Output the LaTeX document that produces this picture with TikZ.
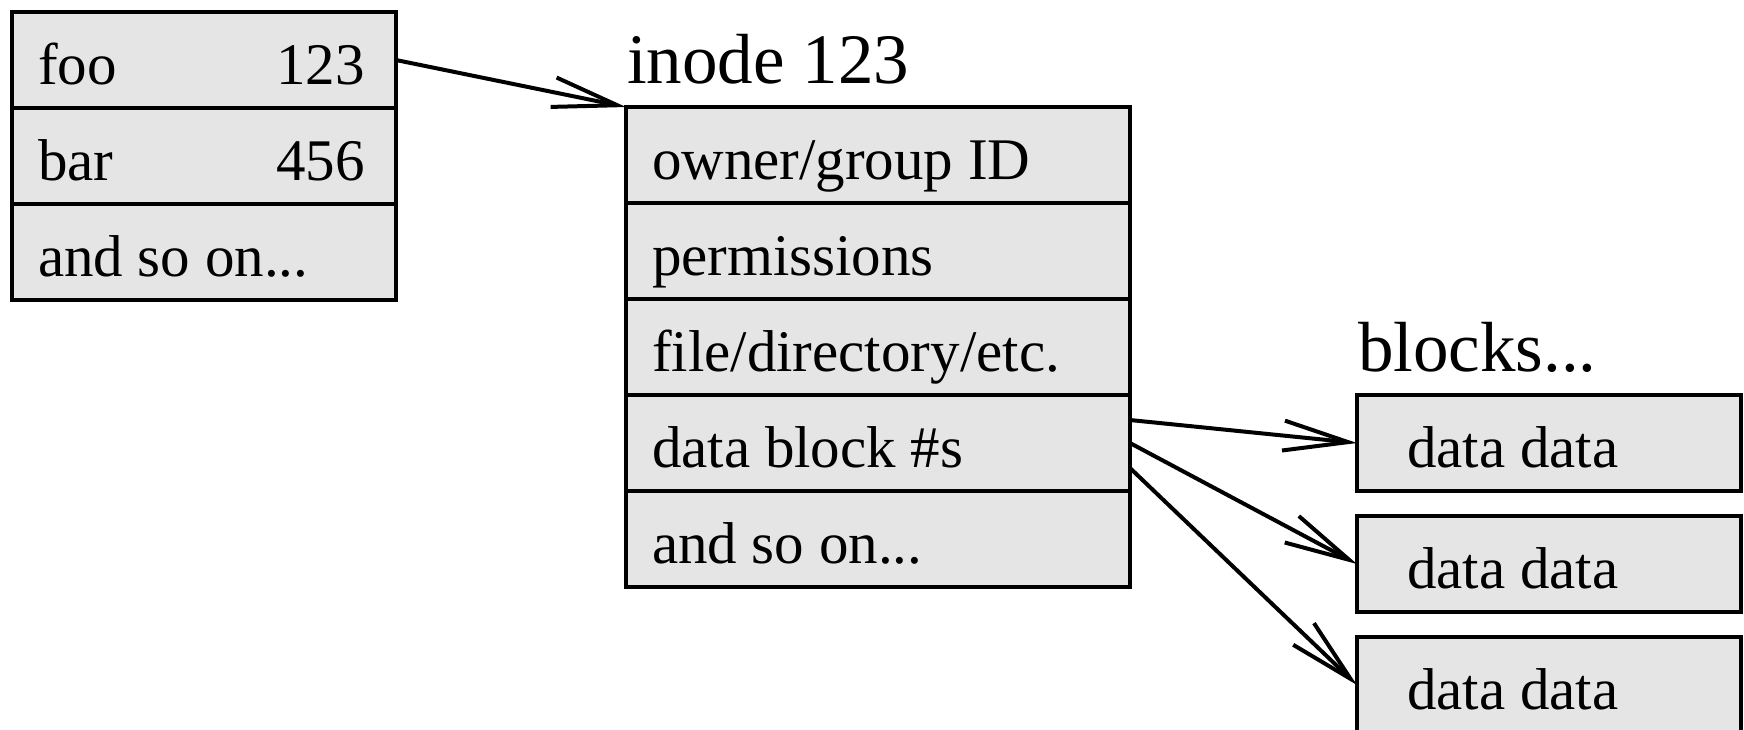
\documentclass[tikz,border=0pt]{standalone}
\usepackage{fontspec}
\setmainfont{Liberation Serif}
\usetikzlibrary{positioning,arrows.meta,calc}

\newcommand{\namenum}[2]{\makebox[65.4pt][s]{#1\hfill #2}}
\newcommand{\dirtxt}[1]{\makebox[66.4pt][l]{#1}}
\newcommand{\inotxt}[1]{\makebox[90.4pt][l]{#1}}
\newcommand{\blktxt}[1]{\makebox[56.8pt][l]{#1}}

\tikzset{
  cell/.style={draw, fill=black!10, line width=0.85pt, outer sep=0pt,
    inner xsep=5.2pt, inner ysep=4.8pt, text height=9.6pt, text depth=0pt,
    font=\fontsize{11.8}{14}\selectfont},
  blkcell/.style={cell, inner xsep=10pt},
  title/.style={inner sep=0pt, anchor=base west, font=\fontsize{14.2}{17}\selectfont},
  ptr/.style={line width=0.8pt, -{Straight Barb[length=13pt,width=6pt]}}
}

\begin{document}
\begin{tikzpicture}
\useasboundingbox (0,0) rectangle (348.8pt,-145.8pt);
%
% directory
\node[cell, anchor=north west] (foo) at (2.4pt,-2.4pt) {\dirtxt{\namenum{foo}{123}}};
\node[cell, below=0pt of foo] (bar) {\dirtxt{\namenum{bar}{456}}};
\node[cell, below=0pt of bar] (dirmore) {\dirtxt{and so on...}};
%
% inode
\node[cell, anchor=north west] (own) at (125.2pt,-21.4pt) {\inotxt{owner/group ID}};
\node[cell, below=0pt of own] (perm) {\inotxt{permissions}};
\node[cell, below=0pt of perm] (ftype) {\inotxt{file/directory/etc.}};
\node[cell, below=0pt of ftype] (dat) {\inotxt{data block \#s}};
\node[cell, below=0pt of dat] (inomore) {\inotxt{and so on...}};
\node[title] (inodelbl) at ($(own.north west)+(0,4.8pt)$) {inode 123};
%
% data blocks
\node[blkcell, anchor=north west] (blk1) at (271.4pt,-79pt) {\blktxt{data data}};
\node[blkcell, below=5pt of blk1] (blk2) {\blktxt{data data}};
\node[blkcell, below=5pt of blk2] (blk3) {\blktxt{data data}};
\node[title] (blklbl) at ($(blk1.north west)+(0,4.8pt)$) {blocks...};
%
\draw[ptr] (foo.east) -- (own.north west);
\draw[ptr] ($(dat.east)+(0,4.6pt)$) -- (blk1.west);
\draw[ptr] (dat.east) -- (blk2.west);
\draw[ptr] ($(dat.east)+(0,-5pt)$) -- (blk3.west);
\end{tikzpicture}
\end{document}
